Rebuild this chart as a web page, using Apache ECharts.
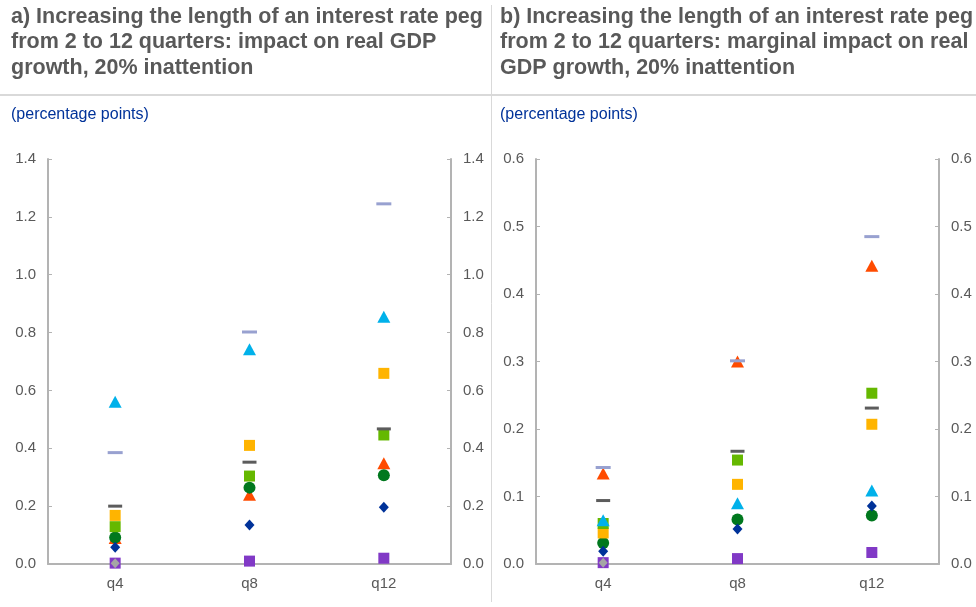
<!DOCTYPE html>
<html>
<head>
<meta charset="utf-8">
<script src="https://cdn.jsdelivr.net/npm/echarts@6/dist/echarts.min.js"></script>
<style>
  html, body { margin: 0; padding: 0; background: #fff; }
  #chart { width: 976px; height: 607px; }
</style>
</head>
<body>
<div id="chart"></div>
<script>
// quarters after the peg
var categories = ['q4', 'q8', 'q12'];

// a) impact on real GDP growth
var aLavender = [0.385, 0.802, 1.245];
var aDarkDash = [0.200, 0.352, 0.467];
var aCyan = [0.561, 0.742, 0.855];
var aOrange = [0.168, 0.410, 0.659];
var aGreen = [0.129, 0.304, 0.446];
var aDkGreen = [0.092, 0.264, 0.307];
var aRed = [0.090, 0.239, 0.348];
var aBlue = [0.058, 0.135, 0.196];
var aPurple = [0.003, 0.010, 0.020];
var aGrey = [0.003, null, null];

// b) marginal impact on real GDP growth
var bLavender = [0.143, 0.301, 0.485];
var bDarkDash = [0.094, 0.167, 0.231];
var bCyan = [0.065, 0.090, 0.109];
var bOrange = [0.046, 0.118, 0.207];
var bGreen = [0.060, 0.154, 0.253];
var bDkGreen = [0.031, 0.066, 0.072];
var bRed = [0.134, 0.300, 0.442];
var bBlue = [0.019, 0.052, 0.086];
var bPurple = [0.002, 0.008, 0.017];
var bGrey = [0.002, null, null];

var aTicks = { min: 0, max: 1.4, interval: 0.2 };
var bTicks = { min: 0, max: 0.6, interval: 0.1 };

var font = 'Arial, "Liberation Sans", sans-serif';
var grey = '#595959';
var axisGrey = '#b3b3b3';

// marker styles, in drawing order (later ones on top)
var markers = [
  { key: 'Red', symbol: 'triangle', size: [13, 12], color: '#ff4b00' },
  { key: 'DkGreen', symbol: 'circle', size: 12, color: '#00781e' },
  { key: 'Blue', symbol: 'diamond', size: [10, 11], color: '#003299' },
  { key: 'Orange', symbol: 'rect', size: 11, color: '#ffb400' },
  { key: 'Green', symbol: 'rect', size: 11, color: '#65b800' },
  { key: 'Cyan', symbol: 'triangle', size: [13, 12], color: '#00b1ea' },
  { key: 'Purple', symbol: 'rect', size: 11, color: '#8139c6' },
  { key: 'Grey', symbol: 'diamond', size: [9, 10], color: '#a5a5a5' },
  { key: 'DarkDash', symbol: 'rect', size: [14, 3], color: '#5c5c5c' },
  { key: 'Lavender', symbol: 'rect', size: [15, 3], color: '#98a1d0' }
];
var panels = {
  a: { Red: aRed, DkGreen: aDkGreen, Blue: aBlue, Orange: aOrange, Green: aGreen, Cyan: aCyan, Purple: aPurple, Grey: aGrey, DarkDash: aDarkDash, Lavender: aLavender },
  b: { Red: bRed, DkGreen: bDkGreen, Blue: bBlue, Orange: bOrange, Green: bGreen, Cyan: bCyan, Purple: bPurple, Grey: bGrey, DarkDash: bDarkDash, Lavender: bLavender }
};

function yAxis(idx, pos, t) {
  return {
    type: 'value', gridIndex: idx, position: pos,
    min: t.min, max: t.max, interval: t.interval,
    axisLine: { show: true, lineStyle: { color: axisGrey, width: 2 } },
    axisTick: { show: true, inside: true, length: 4, lineStyle: { color: axisGrey } },
    splitLine: { show: false },
    axisLabel: {
      color: grey, fontSize: 15, fontFamily: font, margin: 12,
      formatter: function (v) { return v.toFixed(1); }
    }
  };
}
function xAxis(idx) {
  return {
    type: 'category', gridIndex: idx, data: categories,
    axisLine: { lineStyle: { color: axisGrey, width: 2 } },
    axisTick: { show: false },
    axisLabel: { color: grey, fontSize: 15, fontFamily: font, margin: 12 }
  };
}

var series = [];
['a', 'b'].forEach(function (p, gi) {
  markers.forEach(function (m) {
    series.push({
      name: p + m.key,
      type: 'scatter',
      xAxisIndex: gi,
      yAxisIndex: gi * 2,
      symbol: m.symbol,
      symbolSize: m.size,
      itemStyle: { color: m.color, opacity: 1 },
      data: panels[p][m.key]
    });
  });
});

var chart = echarts.init(document.getElementById('chart'));
chart.setOption({
  animation: false,
  backgroundColor: '#fff',
  grid: [
    { left: 48, right: 525, top: 159, bottom: 43 },
    { left: 536, right: 37, top: 159, bottom: 43 }
  ],
  xAxis: [xAxis(0), xAxis(1)],
  yAxis: [yAxis(0, 'left', aTicks), yAxis(0, 'right', aTicks), yAxis(1, 'left', bTicks), yAxis(1, 'right', bTicks)],
  graphic: [
    { type: 'line', shape: { x1: 0, y1: 95, x2: 976, y2: 95 }, style: { stroke: '#d9d9d9', lineWidth: 2 } },
    { type: 'line', shape: { x1: 491.5, y1: 5, x2: 491.5, y2: 602 }, style: { stroke: '#d9d9d9', lineWidth: 1 } },
    {
      type: 'text', left: 11, top: 4,
      style: {
        text: 'a) Increasing the length of an interest rate peg\nfrom 2 to 12 quarters: impact on real GDP\ngrowth, 20% inattention',
        font: 'bold 21.5px ' + font, fill: grey, lineHeight: 25.5
      }
    },
    {
      type: 'text', left: 500, top: 4,
      style: {
        text: 'b) Increasing the length of an interest rate peg\nfrom 2 to 12 quarters: marginal impact on real\nGDP growth, 20% inattention',
        font: 'bold 21.5px ' + font, fill: grey, lineHeight: 25.5
      }
    },
    { type: 'text', left: 11, top: 107, style: { text: '(percentage points)', font: '16px ' + font, fill: '#003299' } },
    { type: 'text', left: 500, top: 107, style: { text: '(percentage points)', font: '16px ' + font, fill: '#003299' } }
  ],
  series: series
});
</script>
</body>
</html>
